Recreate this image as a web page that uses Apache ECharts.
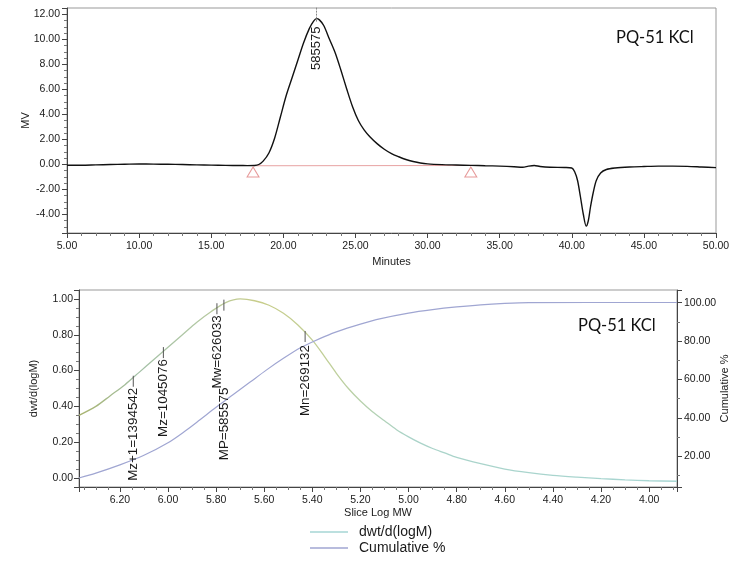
<!DOCTYPE html>
<html>
<head>
<meta charset="utf-8">
<script src="https://cdn.jsdelivr.net/npm/echarts@6/dist/echarts.min.js"></script>
<style>
html,body{margin:0;padding:0;background:#fff;}
#chart{width:744px;height:574px;}
</style>
</head>
<body>
<div id="chart"></div>
<script>
// ---------- Top chromatogram ----------
const topTime = [5.0,6.0,7.0,8.0,9.0,10.0,11.0,12.0,13.0,14.0,15.0,16.0,17.0,17.5,18.0,18.3,18.6,19.0,19.4,19.8,20.2,20.6,21.0,21.4,21.8,22.1,22.3,22.5,22.8,23.2,23.6,24.0,24.4,24.8,25.2,25.6,26.0,26.5,27.0,27.5,28.0,28.5,29.0,29.5,30.0,31.0,32.0,33.0,34.0,35.0,36.0,36.6,37.0,37.4,37.8,38.5,39.5,40.0,40.2,40.4,40.6,40.8,41.0,41.15,41.3,41.5,41.7,42.0,42.4,43.0,44.0,45.0,46.0,47.0,48.0,49.0,50.0];
const topSignal = [-0.08,-0.08,-0.05,-0.02,0.0,0.02,0.01,0.0,-0.02,-0.05,-0.07,-0.09,-0.10,-0.11,-0.10,-0.02,0.25,0.9,2.1,3.8,5.5,6.9,8.3,9.7,10.85,11.45,11.65,11.55,11.1,10.0,8.9,7.5,6.0,4.6,3.5,2.75,2.2,1.65,1.2,0.85,0.6,0.38,0.22,0.1,0.03,-0.03,-0.06,-0.09,-0.12,-0.15,-0.2,-0.24,-0.15,-0.1,-0.18,-0.24,-0.26,-0.3,-0.6,-1.3,-2.6,-4.0,-4.95,-4.5,-3.4,-2.2,-1.3,-0.7,-0.42,-0.3,-0.22,-0.18,-0.15,-0.15,-0.17,-0.22,-0.27];
const baselineTime = [17.9, 33.0];
const baselineSignal = [-0.12, -0.10];
const triangleTime = [17.9, 33.0];
const triangleSignal = [-0.62, -0.62];
const peakTime = [22.3];
const peakSignal = [11.65];
const peakLabels = ['585575'];
const topXTicks = [5, 50, 5];       // min, max, interval
const topYRange = [-5.5, 12.5, 2];  // min, max, label step

// ---------- Bottom MW distribution ----------
const dwtLogM = [6.37,6.30,6.24,6.18,6.12,6.06,6.00,5.94,5.88,5.82,5.76,5.70,5.64,5.58,5.52,5.46,5.40,5.35,5.30,5.25,5.20,5.15,5.10,5.05,5.00,4.95,4.90,4.85,4.80,4.70,4.60,4.50,4.40,4.30,4.20,4.10,4.00,3.884];
const dwtValues = [0.35,0.40,0.46,0.52,0.59,0.66,0.73,0.80,0.87,0.93,0.98,1.0,0.99,0.965,0.92,0.855,0.77,0.68,0.585,0.50,0.43,0.37,0.32,0.27,0.23,0.195,0.165,0.14,0.115,0.08,0.05,0.03,0.015,0.005,-0.003,-0.01,-0.015,-0.018];
const cumLogM = [6.37,6.30,6.20,6.10,6.00,5.93,5.867,5.80,5.73,5.66,5.59,5.52,5.45,5.40,5.35,5.30,5.20,5.12,5.00,4.90,4.80,4.70,4.60,4.50,4.00,3.884];
const cumValues = [8.7,11.2,15.5,20.5,27,33,39,45.5,52,58.5,65,71,76.5,79.5,82.3,84.8,88.8,91.6,94.6,96.4,97.8,98.9,99.6,100.0,100.1,100.1];
const markerLabels = ['Mz+1=1394542','Mz=1045076','Mw=626033','MP=585575','Mn=269132'];
const markerLogM = [6.1444, 6.0192, 5.7966, 5.7676, 5.4300];
const markerDwt = [0.56, 0.72, 0.965, 0.985, 0.81];
const bottomXRange = [3.884, 6.37];
const leftYRange = [-0.05, 1.05];
const rightYRange = [4, 106.6];

const sampleName = 'PQ-51 KCl';
const legendNames = ['dwt/d(logM)', 'Cumulative %'];

// layout (pixel offsets for rotated marker text, style only)
const markerTextShift = [0, 0, 0, 76, 2];

const zip = (a, b) => a.map((v, i) => [v, b[i]]);
const FONT = 'Liberation Sans, Arial, sans-serif';
const LABEL_FONT = 'Lato, sans-serif';
const axisColor = '#444';
const textColor = '#1a1a1a';
const cumColor = '#a0a6d2';
const dwtLegendColor = '#a6d6d4';

const chart = echarts.init(document.getElementById('chart'), null, {renderer: 'canvas'});

function fmt2(step) {
  return function (v) {
    const r = Math.round(v / step) * step;
    if (Math.abs(r - v) > 1e-6) return '';
    return v.toFixed(2);
  };
}

const commonAxis = {
  axisLine: {show: true, onZero: false, lineStyle: {color: axisColor, width: 1}},
  axisTick: {show: true, length: 5, lineStyle: {color: axisColor}},
  splitLine: {show: false},
  minorSplitLine: {show: false},
  nameMoveOverlap: false,
  nameTextStyle: {fontFamily: FONT, fontSize: 11, color: textColor}
};

function peakRender(params, api) {
  const i = params.dataIndex;
  const p = api.coord([api.value(0), api.value(1)]);
  return {
    type: 'group',
    children: [
      {type: 'line', shape: {x1: p[0], y1: p[1] - 11, x2: p[0], y2: p[1] + 3},
       style: {stroke: '#888', lineWidth: 1, lineDash: [2, 1]}},
      {type: 'text', x: p[0], y: p[1] + 8, rotation: Math.PI / 2,
       style: {text: peakLabels[i], fontSize: 13, fontFamily: FONT, fill: textColor,
               align: 'right', verticalAlign: 'middle'}}
    ]
  };
}

function markerRender(params, api) {
  const i = params.dataIndex;
  const p = api.coord([api.value(0), api.value(1)]);
  return {
    type: 'group',
    children: [
      {type: 'line', shape: {x1: p[0], y1: p[1] - 2, x2: p[0], y2: p[1] + 9},
       style: {stroke: '#555', lineWidth: 1}},
      {type: 'text', x: p[0], y: p[1] + 10 + markerTextShift[i], rotation: Math.PI / 2,
       style: {text: markerLabels[i], fontSize: 13.4, fontFamily: FONT, fill: textColor,
               align: 'right', verticalAlign: 'middle'}}
    ]
  };
}

const option = {
  backgroundColor: '#fff',
  animation: false,
  textStyle: {fontFamily: FONT},
  grid: [
    {left: 67, right: 28, top: 8, bottom: 341, show: true, borderColor: '#999', borderWidth: 1, backgroundColor: 'transparent'},
    {left: 79, right: 67, top: 290, bottom: 87, show: true, borderColor: '#999', borderWidth: 1, backgroundColor: 'transparent'}
  ],
  xAxis: [
    Object.assign({}, commonAxis, {
      type: 'value', gridIndex: 0, min: topXTicks[0], max: topXTicks[1], interval: topXTicks[2],
      name: 'Minutes', nameLocation: 'middle', nameGap: 23,
      minorTick: {show: true, splitNumber: 5, length: 3, lineStyle: {color: '#777'}},
      axisLabel: {fontFamily: FONT, fontSize: 10.5, color: textColor, margin: 8, formatter: v => v.toFixed(2)}
    }),
    Object.assign({}, commonAxis, {
      type: 'value', gridIndex: 1, inverse: true, min: bottomXRange[0], max: bottomXRange[1], splitNumber: 12,
      name: 'Slice Log MW', nameLocation: 'middle', nameGap: 20,
      minorTick: {show: true, splitNumber: 4, length: 3, lineStyle: {color: '#777'}},
      axisLabel: {fontFamily: FONT, fontSize: 10.5, color: textColor, margin: 8, formatter: fmt2(0.2), showMinLabel: false, showMaxLabel: false}
    })
  ],
  yAxis: [
    Object.assign({}, commonAxis, {
      type: 'value', gridIndex: 0, min: topYRange[0], max: topYRange[1], splitNumber: 9,
      name: 'MV', nameLocation: 'middle', nameGap: 36, nameRotate: 90,
      minorTick: {show: true, splitNumber: 4, length: 3, lineStyle: {color: '#777'}},
      axisLabel: {fontFamily: FONT, fontSize: 10.5, color: textColor, margin: 7, formatter: fmt2(topYRange[2]), showMinLabel: false, showMaxLabel: false}
    }),
    Object.assign({}, commonAxis, {
      type: 'value', gridIndex: 1, position: 'left', min: leftYRange[0], max: leftYRange[1], splitNumber: 5,
      name: 'dwt/d(logM)', nameLocation: 'middle', nameGap: 40, nameRotate: 90,
      minorTick: {show: true, splitNumber: 4, length: 3, lineStyle: {color: '#777'}},
      axisLabel: {fontFamily: FONT, fontSize: 10.5, color: textColor, margin: 6, formatter: fmt2(0.2), showMinLabel: false, showMaxLabel: false}
    }),
    Object.assign({}, commonAxis, {
      type: 'value', gridIndex: 1, position: 'right', min: rightYRange[0], max: rightYRange[1], splitNumber: 5,
      name: 'Cumulative %', nameLocation: 'middle', nameGap: 42, nameRotate: 90,
      minorTick: {show: true, splitNumber: 2, length: 3, lineStyle: {color: '#777'}},
      axisLabel: {fontFamily: FONT, fontSize: 10.5, color: textColor, margin: 7, formatter: fmt2(20), showMinLabel: false, showMaxLabel: false}
    })
  ],
  legend: {
    orient: 'vertical', left: 310, top: 524, padding: 0, itemWidth: 38, itemHeight: 1.5, itemGap: 0,
    icon: 'rect',
    textStyle: {fontFamily: FONT, fontSize: 14, color: textColor, lineHeight: 16, padding: [0, 0, 0, 6]},
    data: [
      {name: legendNames[0], itemStyle: {color: dwtLegendColor}},
      {name: legendNames[1], itemStyle: {color: cumColor}}
    ]
  },
  graphic: [
    {type: 'text', left: 616, top: 29, style: {text: sampleName, fontFamily: LABEL_FONT, fontSize: 16.5, fill: '#111'}},
    {type: 'text', left: 578, top: 317, style: {text: sampleName, fontFamily: LABEL_FONT, fontSize: 16.5, fill: '#111'}}
  ],
  series: [
    {type: 'line', name: 'signal', xAxisIndex: 0, yAxisIndex: 0, data: zip(topTime, topSignal),
     showSymbol: false, smooth: 0.3, lineStyle: {color: '#111', width: 1.4}, z: 3},
    {type: 'line', name: 'baseline', xAxisIndex: 0, yAxisIndex: 0, data: zip(baselineTime, baselineSignal),
     showSymbol: false, lineStyle: {color: '#e8a3a3', width: 1}, z: 2},
    {type: 'scatter', name: 'marks', xAxisIndex: 0, yAxisIndex: 0, data: zip(triangleTime, triangleSignal),
     symbol: 'triangle', symbolSize: [12, 10], itemStyle: {color: '#fff', borderColor: '#e07f7f', borderWidth: 1}, z: 4},
    {type: 'custom', name: 'peak', xAxisIndex: 0, yAxisIndex: 0, data: zip(peakTime, peakSignal),
     renderItem: peakRender, z: 5},
    {type: 'line', name: legendNames[0], xAxisIndex: 1, yAxisIndex: 1, data: zip(dwtLogM, dwtValues),
     showSymbol: false, smooth: 0.3,
     lineStyle: {width: 1.3, color: new echarts.graphic.LinearGradient(0, 0, 1, 0, [
       {offset: 0, color: '#a9b36c'}, {offset: 0.1, color: '#a3c0a6'}, {offset: 0.2, color: '#b2c8a4'},
       {offset: 0.3, color: '#c8cd8a'}, {offset: 0.42, color: '#c0cf98'}, {offset: 0.55, color: '#aad3c8'},
       {offset: 1, color: '#a8d6d3'}])},
     itemStyle: {color: dwtLegendColor}, z: 3},
    {type: 'line', name: legendNames[1], xAxisIndex: 1, yAxisIndex: 2, data: zip(cumLogM, cumValues),
     showSymbol: false, smooth: 0.3, lineStyle: {width: 1.2, color: cumColor}, itemStyle: {color: cumColor}, z: 3},
    {type: 'custom', name: 'mwmarkers', xAxisIndex: 1, yAxisIndex: 1, data: zip(markerLogM, markerDwt),
     renderItem: markerRender, z: 5}
  ]
};
chart.setOption(option);
</script>
</body>
</html>
